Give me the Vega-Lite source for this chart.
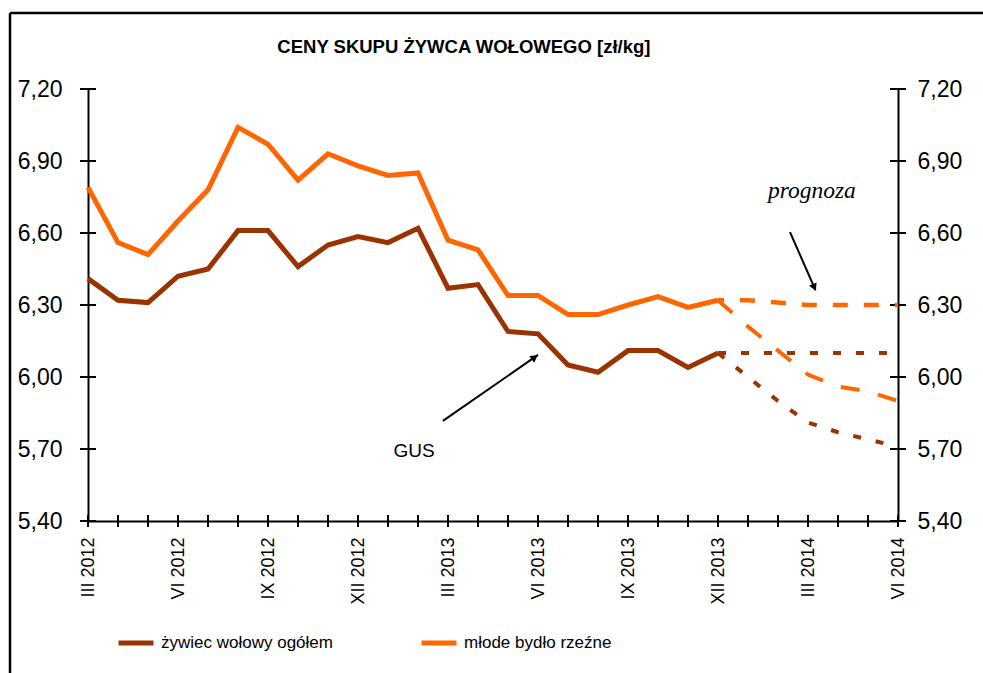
{
  "$schema": "https://vega.github.io/schema/vega-lite/v6.json",
  "width": 810,
  "height": 432,
  "autosize": {"type": "none"},
  "padding": {"left": 88, "top": 89, "right": 85, "bottom": 152},
  "config": {
    "view": {"stroke": null},
    "font": "Liberation Sans",
    "axis": {"labelColor": "black", "domainColor": "black", "grid": false}
  },
  "datasets": {
    "main": [
      {"t": 0, "series": "żywiec wołowy ogółem", "v": 6.41},
      {"t": 1, "series": "żywiec wołowy ogółem", "v": 6.32},
      {"t": 2, "series": "żywiec wołowy ogółem", "v": 6.31},
      {"t": 3, "series": "żywiec wołowy ogółem", "v": 6.42},
      {"t": 4, "series": "żywiec wołowy ogółem", "v": 6.45},
      {"t": 5, "series": "żywiec wołowy ogółem", "v": 6.61},
      {"t": 6, "series": "żywiec wołowy ogółem", "v": 6.61},
      {"t": 7, "series": "żywiec wołowy ogółem", "v": 6.46},
      {"t": 8, "series": "żywiec wołowy ogółem", "v": 6.55},
      {"t": 9, "series": "żywiec wołowy ogółem", "v": 6.585},
      {"t": 10, "series": "żywiec wołowy ogółem", "v": 6.56},
      {"t": 11, "series": "żywiec wołowy ogółem", "v": 6.62},
      {"t": 12, "series": "żywiec wołowy ogółem", "v": 6.37},
      {"t": 13, "series": "żywiec wołowy ogółem", "v": 6.385},
      {"t": 14, "series": "żywiec wołowy ogółem", "v": 6.19},
      {"t": 15, "series": "żywiec wołowy ogółem", "v": 6.18},
      {"t": 16, "series": "żywiec wołowy ogółem", "v": 6.05},
      {"t": 17, "series": "żywiec wołowy ogółem", "v": 6.02},
      {"t": 18, "series": "żywiec wołowy ogółem", "v": 6.11},
      {"t": 19, "series": "żywiec wołowy ogółem", "v": 6.11},
      {"t": 20, "series": "żywiec wołowy ogółem", "v": 6.04},
      {"t": 21, "series": "żywiec wołowy ogółem", "v": 6.10},
      {"t": 0, "series": "młode bydło rzeźne", "v": 6.79},
      {"t": 1, "series": "młode bydło rzeźne", "v": 6.56},
      {"t": 2, "series": "młode bydło rzeźne", "v": 6.51},
      {"t": 3, "series": "młode bydło rzeźne", "v": 6.65},
      {"t": 4, "series": "młode bydło rzeźne", "v": 6.78},
      {"t": 5, "series": "młode bydło rzeźne", "v": 7.04},
      {"t": 6, "series": "młode bydło rzeźne", "v": 6.97},
      {"t": 7, "series": "młode bydło rzeźne", "v": 6.82},
      {"t": 8, "series": "młode bydło rzeźne", "v": 6.93},
      {"t": 9, "series": "młode bydło rzeźne", "v": 6.88},
      {"t": 10, "series": "młode bydło rzeźne", "v": 6.84},
      {"t": 11, "series": "młode bydło rzeźne", "v": 6.85},
      {"t": 12, "series": "młode bydło rzeźne", "v": 6.57},
      {"t": 13, "series": "młode bydło rzeźne", "v": 6.53},
      {"t": 14, "series": "młode bydło rzeźne", "v": 6.34},
      {"t": 15, "series": "młode bydło rzeźne", "v": 6.34},
      {"t": 16, "series": "młode bydło rzeźne", "v": 6.26},
      {"t": 17, "series": "młode bydło rzeźne", "v": 6.26},
      {"t": 18, "series": "młode bydło rzeźne", "v": 6.30},
      {"t": 19, "series": "młode bydło rzeźne", "v": 6.335},
      {"t": 20, "series": "młode bydło rzeźne", "v": 6.29},
      {"t": 21, "series": "młode bydło rzeźne", "v": 6.32}
    ],
    "fc": [
      {"t": 21, "line": "of", "v": 6.32}, {"t": 22, "line": "of", "v": 6.32}, {"t": 23, "line": "of", "v": 6.31},
      {"t": 24, "line": "of", "v": 6.30}, {"t": 25, "line": "of", "v": 6.30}, {"t": 26, "line": "of", "v": 6.30}, {"t": 27, "line": "of", "v": 6.30},
      {"t": 21, "line": "ol", "v": 6.32}, {"t": 22, "line": "ol", "v": 6.21}, {"t": 23, "line": "ol", "v": 6.11},
      {"t": 24, "line": "ol", "v": 6.01}, {"t": 25, "line": "ol", "v": 5.96}, {"t": 26, "line": "ol", "v": 5.94}, {"t": 27, "line": "ol", "v": 5.90},
      {"t": 21, "line": "df", "v": 6.10}, {"t": 22, "line": "df", "v": 6.10}, {"t": 23, "line": "df", "v": 6.10},
      {"t": 24, "line": "df", "v": 6.10}, {"t": 25, "line": "df", "v": 6.10}, {"t": 26, "line": "df", "v": 6.10}, {"t": 27, "line": "df", "v": 6.10},
      {"t": 21, "line": "dl", "v": 6.10}, {"t": 22, "line": "dl", "v": 6.00}, {"t": 23, "line": "dl", "v": 5.90},
      {"t": 24, "line": "dl", "v": 5.81}, {"t": 25, "line": "dl", "v": 5.77}, {"t": 26, "line": "dl", "v": 5.74}, {"t": 27, "line": "dl", "v": 5.71}
    ],
    "yticks": [{"v": 5.4}, {"v": 5.7}, {"v": 6.0}, {"v": 6.3}, {"v": 6.6}, {"v": 6.9}, {"v": 7.2}],
    "xticks": [
      {"t": 0}, {"t": 1}, {"t": 2}, {"t": 3}, {"t": 4}, {"t": 5}, {"t": 6}, {"t": 7}, {"t": 8}, {"t": 9},
      {"t": 10}, {"t": 11}, {"t": 12}, {"t": 13}, {"t": 14}, {"t": 15}, {"t": 16}, {"t": 17}, {"t": 18}, {"t": 19},
      {"t": 20}, {"t": 21}, {"t": 22}, {"t": 23}, {"t": 24}, {"t": 25}, {"t": 26}, {"t": 27}
    ],
    "frame": [
      {"edge": "top", "x1": -2.6, "x2": 31, "y1": 7.5167, "y2": 7.5167},
      {"edge": "left", "x1": -2.6, "x2": -2.6, "y1": 7.5167, "y2": 4.5}
    ]
  },
  "resolve": {"axis": {"x": "independent", "y": "independent"}},
  "layer": [
    {
      "data": {"name": "xticks"},
      "mark": {"type": "tick", "orient": "vertical", "size": 12, "thickness": 2, "color": "black", "opacity": 1},
      "encoding": {
        "x": {
          "field": "t", "type": "quantitative",
          "scale": {"domain": [0, 27], "zero": false, "nice": false},
          "axis": {
            "orient": "bottom", "values": [0, 3, 6, 9, 12, 15, 18, 21, 24, 27],
            "ticks": false, "tickSize": 0, "labelAngle": 270, "labelAlign": "right", "labelBaseline": "middle",
            "labelPadding": 16, "labelFontSize": 18, "labelOverlap": false, "labelFlush": false,
            "labelExpr": "(datum.value % 12 == 0 ? 'III' : datum.value % 12 == 3 ? 'VI' : datum.value % 12 == 6 ? 'IX' : 'XII') + ' ' + (2012 + floor(datum.value / 12))",
            "domainWidth": 2, "title": null
          }
        },
        "y": {"datum": 5.4, "type": "quantitative", "axis": null, "scale": {"domain": [5.4, 7.2], "zero": false, "nice": false}}
      }
    },
    {
      "data": {"name": "frame"},
      "mark": {"type": "rule", "color": "black", "strokeWidth": 2.5, "clip": false},
      "encoding": {
        "x": {"field": "x1", "type": "quantitative", "axis": null},
        "y": {"field": "y1", "type": "quantitative", "axis": null},
        "x2": {"field": "x2"},
        "y2": {"field": "y2"}
      }
    },
    {
      "data": {"name": "yticks"},
      "mark": {"type": "tick", "orient": "horizontal", "size": 16, "thickness": 2, "color": "black", "opacity": 1},
      "encoding": {
        "x": {"datum": 0, "type": "quantitative", "axis": null},
        "y": {
          "field": "v", "type": "quantitative",
          "scale": {"domain": [5.4, 7.2], "zero": false, "nice": false},
          "axis": {
            "orient": "left", "values": [5.4, 5.7, 6.0, 6.3, 6.6, 6.9, 7.2],
            "ticks": false, "tickSize": 0, "labelPadding": 26, "labelFontSize": 23,
            "labelExpr": "replace(format(datum.value, '.2f'), '.', ',')",
            "domainWidth": 2, "title": null
          }
        }
      }
    },
    {
      "data": {"name": "yticks"},
      "mark": {"type": "tick", "orient": "horizontal", "size": 16, "thickness": 2, "color": "black", "opacity": 1},
      "encoding": {
        "x": {"datum": 27, "type": "quantitative", "axis": null},
        "y": {
          "field": "v", "type": "quantitative",
          "scale": {"domain": [5.4, 7.2], "zero": false, "nice": false},
          "axis": {
            "orient": "right", "values": [5.4, 5.7, 6.0, 6.3, 6.6, 6.9, 7.2],
            "ticks": false, "tickSize": 0, "labelPadding": 19, "labelFontSize": 23,
            "labelExpr": "replace(format(datum.value, '.2f'), '.', ',')",
            "domainWidth": 2, "title": null
          }
        }
      }
    },
    {
      "data": {"name": "fc"},
      "transform": [{"filter": "datum.line == 'of'"}],
      "mark": {"type": "line", "color": "#FF6600", "strokeWidth": 4.5, "strokeDash": [15, 16], "strokeDashOffset": 9},
      "encoding": {
        "x": {"field": "t", "type": "quantitative", "axis": null},
        "y": {"field": "v", "type": "quantitative", "axis": null}
      }
    },
    {
      "data": {"name": "fc"},
      "transform": [{"filter": "datum.line == 'ol'"}],
      "mark": {"type": "line", "color": "#FF6600", "strokeWidth": 4, "strokeDash": [19, 19]},
      "encoding": {
        "x": {"field": "t", "type": "quantitative", "axis": null},
        "y": {"field": "v", "type": "quantitative", "axis": null}
      }
    },
    {
      "data": {"name": "fc"},
      "transform": [{"filter": "datum.line == 'df'"}],
      "mark": {"type": "line", "color": "#993300", "strokeWidth": 4, "strokeDash": [8, 15]},
      "encoding": {
        "x": {"field": "t", "type": "quantitative", "axis": null},
        "y": {"field": "v", "type": "quantitative", "axis": null}
      }
    },
    {
      "data": {"name": "fc"},
      "transform": [{"filter": "datum.line == 'dl'"}],
      "mark": {"type": "line", "color": "#993300", "strokeWidth": 4, "strokeDash": [8, 15]},
      "encoding": {
        "x": {"field": "t", "type": "quantitative", "axis": null},
        "y": {"field": "v", "type": "quantitative", "axis": null}
      }
    },
    {
      "data": {"name": "main"},
      "mark": {"type": "line", "strokeWidth": 5, "strokeJoin": "miter"},
      "encoding": {
        "x": {"field": "t", "type": "quantitative", "axis": null},
        "y": {"field": "v", "type": "quantitative", "axis": null},
        "color": {
          "field": "series", "type": "nominal",
          "scale": {"domain": ["żywiec wołowy ogółem", "młode bydło rzeźne"], "range": ["#993300", "#FF6600"]},
          "legend": {
            "orient": "none", "legendX": 28, "legendY": 534, "direction": "horizontal", "title": null,
            "symbolType": "stroke", "symbolStrokeWidth": 5, "symbolSize": 1225,
            "labelFontSize": 17, "labelColor": "black", "labelLimit": 400, "columnPadding": 78, "labelOffset": 5, "padding": 0
          }
        }
      }
    },
    {
      "data": {"values": [
        {"t1": 11.83, "v1": 5.817, "t2": 15.0, "v2": 6.092},
        {"t1": 23.4, "v1": 6.604, "t2": 24.25, "v2": 6.362}
      ]},
      "mark": {"type": "rule", "color": "black", "strokeWidth": 2},
      "encoding": {
        "x": {"field": "t1", "type": "quantitative", "axis": null},
        "y": {"field": "v1", "type": "quantitative", "axis": null},
        "x2": {"field": "t2"},
        "y2": {"field": "v2"}
      }
    },
    {
      "data": {"values": [{"t": 14.89, "v": 6.082}]},
      "mark": {"type": "point", "shape": "triangle-up", "filled": true, "color": "black", "opacity": 1, "size": 70, "angle": 55},
      "encoding": {
        "x": {"field": "t", "type": "quantitative", "axis": null},
        "y": {"field": "v", "type": "quantitative", "axis": null}
      }
    },
    {
      "data": {"values": [{"t": 24.21, "v": 6.373}]},
      "mark": {"type": "point", "shape": "triangle-up", "filled": true, "color": "black", "opacity": 1, "size": 70, "angle": 156},
      "encoding": {
        "x": {"field": "t", "type": "quantitative", "axis": null},
        "y": {"field": "v", "type": "quantitative", "axis": null}
      }
    },
    {
      "data": {"values": [{"t": 10.87, "v": 5.667, "label": "GUS"}]},
      "mark": {"type": "text", "fontSize": 19, "align": "center", "baseline": "alphabetic", "color": "black", "font": "Liberation Sans"},
      "encoding": {
        "x": {"field": "t", "type": "quantitative", "axis": null},
        "y": {"field": "v", "type": "quantitative", "axis": null},
        "text": {"field": "label"}
      }
    },
    {
      "data": {"values": [{"t": 24.13, "v": 6.746, "label": "prognoza"}]},
      "mark": {"type": "text", "fontSize": 23.5, "fontStyle": "italic", "align": "center", "baseline": "alphabetic", "color": "black", "font": "Liberation Serif"},
      "encoding": {
        "x": {"field": "t", "type": "quantitative", "axis": null},
        "y": {"field": "v", "type": "quantitative", "axis": null},
        "text": {"field": "label"}
      }
    },
    {
      "data": {"values": [{"t": 12.53, "v": 7.35, "label": "CENY SKUPU ŻYWCA WOŁOWEGO [zł/kg]"}]},
      "mark": {"type": "text", "fontSize": 18.5, "fontWeight": "bold", "align": "center", "baseline": "alphabetic", "color": "black", "font": "Liberation Sans"},
      "encoding": {
        "x": {"field": "t", "type": "quantitative", "axis": null},
        "y": {"field": "v", "type": "quantitative", "axis": null},
        "text": {"field": "label"}
      }
    }
  ]
}
